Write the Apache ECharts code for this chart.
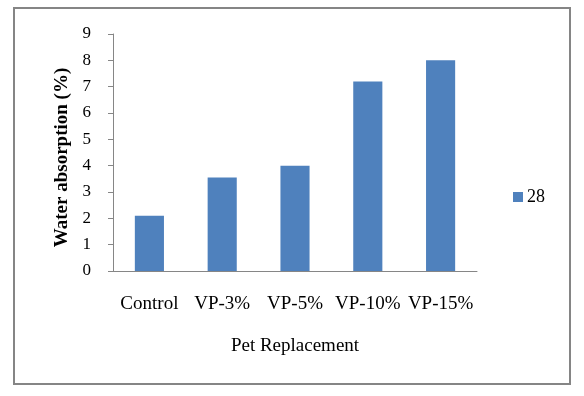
<!DOCTYPE html>
<html>
<head>
<meta charset="utf-8">
<script src="https://cdn.jsdelivr.net/npm/echarts@6/dist/echarts.min.js"></script>
<style>
html,body{margin:0;padding:0;background:#fff;}
#frame{position:absolute;left:13px;top:7px;width:554px;height:374px;border:2px solid #858585;}
#c{position:absolute;left:0;top:0;width:584px;height:396px;}
</style>
</head>
<body>
<div id="frame"></div>
<div id="c"></div>
<script>
const categories = ['Control', 'VP-3%', 'VP-5%', 'VP-10%', 'VP-15%'];
const values28 = [2.1, 3.55, 4.0, 7.2, 8.0];
const seriesName = '28';
const yTicks = {min: 0, max: 9, interval: 1};
const xTitle = 'Pet Replacement';
const yTitle = 'Water absorption (%)';

const font = '"Liberation Serif", "Times New Roman", serif';
const chart = echarts.init(document.getElementById('c'), null, {renderer: 'canvas'});
chart.setOption({
  animation: false,
  backgroundColor: 'transparent',
  textStyle: {fontFamily: font},
  grid: {left: 113, right: 107, top: 34, bottom: 125, containLabel: false},
  legend: {
    data: [seriesName],
    orient: 'vertical',
    left: 508, top: 183,
    itemWidth: 10, itemHeight: 10, itemGap: 6,
    icon: 'rect',
    textStyle: {fontFamily: font, fontSize: 18, color: '#000', padding: [0, 0, 0, -1]}
  },
  xAxis: {
    type: 'category',
    data: categories,
    name: xTitle,
    nameLocation: 'middle',
    nameGap: 66,
    nameTextStyle: {fontFamily: font, fontSize: 19, color: '#000'},
    axisLine: {lineStyle: {color: '#868686', width: 1}},
    axisTick: {show: false},
    axisLabel: {fontFamily: font, fontSize: 19, color: '#000', margin: 24, interval: 0}
  },
  yAxis: {
    type: 'value',
    min: yTicks.min, max: yTicks.max, interval: yTicks.interval,
    name: yTitle,
    nameLocation: 'middle',
    nameGap: 39,
    nameRotate: 90,
    nameTextStyle: {fontFamily: font, fontSize: 19, fontWeight: 'bold', color: '#000', padding: [0, 10, 0, 0]},
    axisLine: {show: true, lineStyle: {color: '#868686', width: 1}},
    axisTick: {show: true, length: 5, lineStyle: {color: '#868686'}},
    splitLine: {show: false},
    axisLabel: {fontFamily: font, fontSize: 17, color: '#000', margin: 22}
  },
  series: [{
    name: seriesName,
    type: 'bar',
    data: values28,
    barWidth: '40%',
    itemStyle: {color: '#4F81BD'}
  }]
});
</script>
</body>
</html>
